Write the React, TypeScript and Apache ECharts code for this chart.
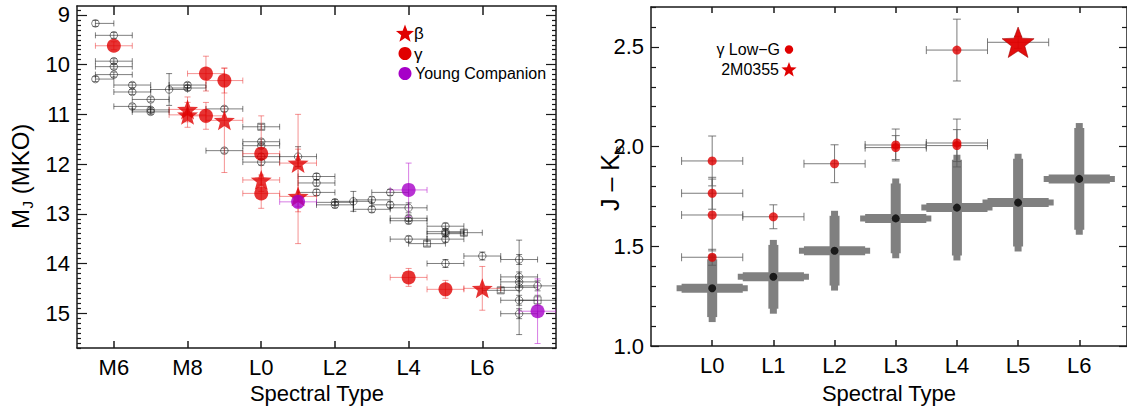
import React, { useEffect, useRef } from 'react';
import * as echarts from 'echarts';

// ---------- Left panel: absolute J magnitude vs spectral type ----------
// spectral type code: M5=5 ... M9=9, L0=10 ... L7.5=17.5
const leftTickValues = [6, 8, 10, 12, 14, 16];
const leftTickLabels = ['M6', 'M8', 'L0', 'L2', 'L4', 'L6'];
const leftYTicks = [9, 10, 11, 12, 13, 14, 15];

// [spt, M_J, xErrLow, xErrHigh, yErr]
const fieldCircles = [
  [5.5, 9.17, 0, 0.5, 0.06], [6.0, 9.41, 0.5, 0.5, 0.06], [6.0, 9.93, 0.5, 0.5, 0.05],
  [6.0, 10.04, 0.5, 0.5, 0.05], [6.0, 10.2, 0.5, 0.5, 0.05], [5.5, 10.29, 0, 0.5, 0.05],
  [6.5, 10.41, 0.5, 0.5, 0.05], [6.5, 10.55, 0.5, 0.5, 0.05], [7.0, 10.7, 0.5, 0.5, 0.05],
  [6.5, 10.84, 0.5, 0.5, 0.05], [7.0, 10.91, 0.5, 0.5, 0.05], [7.0, 10.95, 0.5, 0.5, 0.05],
  [7.5, 10.5, 0.5, 0.5, 0.32], [8.0, 10.41, 0.5, 0.5, 0.05], [8.0, 10.47, 0.5, 0.5, 0.05],
  [9.0, 10.89, 0.5, 0.5, 0.05], [9.0, 11.73, 0.5, 0.5, 0.05], [10.0, 11.55, 0.5, 0.5, 0.05],
  [10.0, 11.63, 0.5, 0.5, 0.05], [10.0, 11.85, 0.5, 0.5, 0.06], [10.0, 11.96, 0.5, 0.5, 0.06],
  [11.0, 11.85, 0.5, 0.5, 0.2], [11.5, 12.25, 0.5, 0.5, 0.06], [11.5, 12.38, 0.5, 0.5, 0.06],
  [11.5, 12.57, 0.5, 0.5, 0.06], [12.0, 12.77, 0.5, 0.5, 0.06], [12.0, 12.82, 0.5, 0.5, 0.06],
  [12.5, 12.75, 0.5, 0.5, 0.2], [13.0, 12.72, 0.5, 0.5, 0.06], [13.0, 12.91, 0.5, 0.5, 0.06],
  [13.5, 12.57, 0.5, 0.5, 0.06], [13.5, 12.82, 0.5, 0.5, 0.06], [14.0, 12.88, 0.5, 0.5, 0.1],
  [14.0, 13.09, 0.5, 0.5, 0.06], [14.0, 13.14, 0.5, 0.5, 0.06], [14.0, 13.51, 0.5, 0.5, 0.06],
  [15.0, 13.25, 0.5, 0.5, 0.06], [15.0, 13.36, 0.5, 0.5, 0.06], [15.0, 13.4, 0.5, 0.5, 0.06],
  [15.0, 13.51, 0.5, 0.5, 0.06], [15.0, 14.0, 0.5, 0.5, 0.08], [16.0, 13.85, 0.5, 0.5, 0.08],
  [17.0, 13.92, 0.5, 0.5, 0.1], [17.0, 14.27, 0.5, 0.5, 0.1], [17.0, 14.37, 0.5, 0.5, 0.1],
  [17.0, 14.48, 0.5, 0.5, 0.95], [17.0, 14.74, 0.5, 0.5, 0.1], [17.0, 15.01, 0.5, 0.5, 0.1],
  [17.5, 14.45, 0.5, 0.5, 0.1],
];
const fieldSquares = [
  [10.0, 11.25, 0.5, 0.5, 0.05], [14.5, 13.6, 0.5, 0.5, 0.05], [15.5, 13.38, 0.5, 0.5, 0.05],
  [16.5, 14.54, 0.5, 0.5, 0.05], [17.5, 14.74, 0.5, 0.5, 0.1],
];
const gammaObjects = [
  [6.0, 9.62, 0.5, 0.5, 0.08], [8.5, 10.18, 0.5, 0.5, 0.35], [9.0, 10.32, 0.5, 0.5, 0.25],
  [8.5, 11.03, 0.5, 0.5, 0.27], [10.0, 11.79, 0.5, 0.5, 0.76], [10.0, 12.59, 0.5, 0.5, 0.3],
  [14.0, 14.28, 0.5, 0.5, 0.18], [15.0, 14.52, 0.5, 0.5, 0.18],
];
const betaObjects = [
  [8.0, 10.9, 0.5, 0.5, 0.25], [8.0, 11.01, 0.5, 0.5, 0.25], [9.0, 11.12, 0.5, 0.5, 1.05],
  [10.0, 12.32, 0.5, 0.5, 0.1], [11.0, 11.98, 0.5, 0.5, 0.98], [11.0, 12.65, 0.5, 0.5, 0.95],
  [16.0, 14.5, 0.5, 0.5, 0.44],
];
const youngCompanions = [
  [11.0, 12.76, 0.5, 0.5, 0.1], [14.0, 12.52, 0.5, 0.5, 0.54], [17.5, 14.96, 0.5, 0.5, 0.65],
];

// ---------- Right panel: J-Ks colour vs spectral type ----------
const rightTickValues = [0, 1, 2, 3, 4, 5, 6];
const rightTickLabels = ['L0', 'L1', 'L2', 'L3', 'L4', 'L5', 'L6'];
const rightYTicks = [1.0, 1.5, 2.0, 2.5];
// [spt, J-Ks, xErr, yErr]
const fieldMeans = [
  [0, 1.29, 0.5, 0.145], [1, 1.347, 0.5, 0.16], [2, 1.478, 0.5, 0.175], [3, 1.64, 0.5, 0.175],
  [4, 1.694, 0.5, 0.24], [5, 1.719, 0.5, 0.22], [6, 1.838, 0.5, 0.255],
];
// [spt, J-Ks, xErrLow, xErrHigh, yErr]
const lowGravity = [
  [0, 1.928, 0.5, 0.5, 0.125], [0, 1.766, 0.5, 0.5, 0.08], [0, 1.657, 0.5, 0.5, 0.18],
  [0, 1.445, 0.5, 0.5, 0.04], [1, 1.648, 0.5, 0.5, 0.06], [2, 1.914, 0.5, 0.5, 0.095],
  [3, 2.008, 0.5, 0.5, 0.08], [3, 1.995, 0.5, 0.5, 0.06], [4, 2.018, 0.5, 0.5, 0.12],
  [4, 2.005, 0.5, 0.5, 0.08], [4, 2.484, 0.5, 0.5, 0.155],
];
const star2M0355 = [[5, 2.523, 0.5, 0.5, 0.03]];

const FONT = '"Liberation Sans", Arial, Helvetica, sans-serif';
const RED = '#e00000';
const PURPLE = '#a600c8';
const STAR =
  'path://M50,0 L62.34,33.01 L97.55,34.55 L69.97,56.49 L79.39,90.45 L50,71 L20.61,90.45 L30.03,56.49 L2.45,34.55 L37.66,33.01 Z';

function minorTicks(from: number, to: number, step: number, majorEvery: number): number[] {
  const out: number[] = [];
  const n0 = Math.ceil(from / step - 1e-9);
  const n1 = Math.floor(to / step + 1e-9);
  const ratio = Math.round(majorEvery / step);
  for (let k = n0; k <= n1; k++) if (k % ratio !== 0) out.push(Math.round(k * step * 1000) / 1000);
  return out;
}

function starPoints(cx: number, cy: number, R: number): number[][] {
  const pts: number[][] = [];
  for (let i = 0; i < 10; i++) {
    const r = i % 2 === 0 ? R : R * 0.42;
    const a = -Math.PI / 2 + (i * Math.PI) / 5;
    pts.push([cx + r * Math.cos(a), cy + r * Math.sin(a)]);
  }
  return pts;
}

function labelOf(values: number[], labels: string[]) {
  return (v: number) => {
    const i = values.findIndex((t) => Math.abs(t - v) < 1e-6);
    return i >= 0 ? labels[i] : '';
  };
}

const axisLineStyle = { color: '#1a1a1a', width: 1.5 };
const tickLabelStyle = { fontSize: 22, fontFamily: FONT, color: '#000' };

function xAx(gridIndex: number, min: number, max: number, position: string, ticks: number[], len: number, labels?: string[]) {
  return {
    type: 'value', gridIndex, min, max, position,
    axisLine: { show: true, onZero: false, lineStyle: axisLineStyle },
    axisTick: { show: true, inside: true, length: len, customValues: ticks, lineStyle: axisLineStyle },
    axisLabel: labels
      ? { show: true, customValues: ticks, formatter: labelOf(ticks, labels), margin: 8, ...tickLabelStyle }
      : { show: false },
    splitLine: { show: false },
  };
}

function yAx(gridIndex: number, min: number, max: number, position: string, inverse: boolean, ticks: number[], len: number, showLine: boolean, fmt?: (v: number) => string) {
  return {
    type: 'value', gridIndex, min, max, position, inverse,
    axisLine: { show: showLine, onZero: false, lineStyle: axisLineStyle },
    axisTick: { show: true, inside: true, length: len, customValues: ticks, lineStyle: { color: '#1a1a1a', width: 1.2 } },
    axisLabel: fmt ? { show: true, customValues: ticks, formatter: fmt, margin: 7, ...tickLabelStyle } : { show: false },
    splitLine: { show: false },
  };
}

function errRender(color: string, cap: number, width: number) {
  return (_params: any, api: any) => {
    const x = api.value(0), y = api.value(1), xl = api.value(2), xh = api.value(3), ye = api.value(4);
    const style = { stroke: color, lineWidth: width, fill: null };
    const children: any[] = [];
    const ln = (x1: number, y1: number, x2: number, y2: number) =>
      children.push({ type: 'line', shape: { x1, y1, x2, y2 }, style });
    if (xl > 0 || xh > 0) {
      const a = api.coord([x - xl, y]);
      const b = api.coord([x + xh, y]);
      ln(a[0], a[1], b[0], b[1]);
      if (xl > 0) ln(a[0], a[1] - cap, a[0], a[1] + cap);
      if (xh > 0) ln(b[0], b[1] - cap, b[0], b[1] + cap);
    }
    if (ye > 0) {
      const a = api.coord([x, y - ye]);
      const b = api.coord([x, y + ye]);
      ln(a[0], a[1], b[0], b[1]);
      ln(a[0] - cap, a[1], a[0] + cap, a[1]);
      ln(b[0] - cap, b[1], b[0] + cap, b[1]);
    }
    return { type: 'group', children };
  };
}

function crossRender(_params: any, api: any) {
  const x = api.value(0), y = api.value(1), xe = api.value(2), ye = api.value(3);
  const c = api.coord([x, y]);
  const l = api.coord([x - xe, y]);
  const r = api.coord([x + xe, y]);
  const t = api.coord([x, y + ye]);
  const b = api.coord([x, y - ye]);
  const fill = '#808080';
  const ext = 5;
  return {
    type: 'group',
    children: [
      { type: 'rect', shape: { x: l[0] - ext, y: c[1] - 3, width: r[0] - l[0] + 2 * ext, height: 6 }, style: { fill } },
      { type: 'rect', shape: { x: c[0] - 3.5, y: t[1] - ext, width: 7, height: b[1] - t[1] + 2 * ext }, style: { fill } },
      { type: 'rect', shape: { x: l[0], y: c[1] - 4.5, width: r[0] - l[0], height: 9 }, style: { fill } },
      { type: 'rect', shape: { x: c[0] - 5, y: t[1], width: 10, height: b[1] - t[1] }, style: { fill } },
    ],
  };
}

const L = { xAxisIndex: 0, yAxisIndex: 0 };
const R = { xAxisIndex: 2, yAxisIndex: 4 };

function buildOption(): any {
  const leftMinor = minorTicks(8.82, 15.7, 0.1, 1);
  const rightMinor = minorTicks(1.0, 2.7, 0.1, 0.5);
  const errBase = { type: 'custom', clip: true, silent: true, encode: { x: 0, y: 1 } };
  const txt = (x: number, y: number, text: string, size: number, align: string, extra: any = {}) => ({
    type: 'text', x, y, silent: true,
    style: { text, fontSize: size, fontFamily: FONT, fill: '#000', align, textAlign: align, verticalAlign: 'middle', textVerticalAlign: 'middle', ...extra },
  });
  return {
    animation: false,
    backgroundColor: '#fff',
    grid: [
      { left: 77, top: 6, width: 479, height: 342 },
      { left: 651, top: 7, width: 476, height: 339 },
    ],
    xAxis: [
      xAx(0, 5, 18, 'bottom', leftTickValues, 7, leftTickLabels),
      xAx(0, 5, 18, 'top', leftTickValues, 9),
      xAx(1, -1, 6.78, 'bottom', rightTickValues, 6, rightTickLabels),
      xAx(1, -1, 6.78, 'top', rightTickValues, 6),
    ],
    yAxis: [
      yAx(0, 8.82, 15.7, 'left', true, leftYTicks, 10, true, (v) => String(Math.round(v))),
      yAx(0, 8.82, 15.7, 'left', true, leftMinor, 4, false),
      yAx(0, 8.82, 15.7, 'right', true, leftYTicks, 10, true),
      yAx(0, 8.82, 15.7, 'right', true, leftMinor, 4, false),
      yAx(1, 1.0, 2.7, 'left', false, rightYTicks, 8, true, (v) => v.toFixed(1)),
      yAx(1, 1.0, 2.7, 'left', false, rightMinor, 5, false),
      yAx(1, 1.0, 2.7, 'right', false, rightYTicks, 8, true),
      yAx(1, 1.0, 2.7, 'right', false, rightMinor, 5, false),
    ],
    series: [
      // left panel
      { ...errBase, ...L, data: fieldCircles, renderItem: errRender('rgba(0,0,0,0.5)', 3, 1), z: 2 },
      { ...errBase, ...L, data: fieldSquares, renderItem: errRender('rgba(0,0,0,0.5)', 3, 1), z: 2 },
      {
        type: 'scatter', ...L, data: fieldCircles, symbol: 'circle', symbolSize: 7.5, silent: true, z: 3,
        itemStyle: { color: 'rgba(255,255,255,0)', borderColor: 'rgba(20,20,20,0.75)', borderWidth: 0.9 },
      },
      {
        type: 'scatter', ...L, data: fieldSquares, symbol: 'rect', symbolSize: 7, silent: true, z: 3,
        itemStyle: { color: 'rgba(255,255,255,0)', borderColor: 'rgba(20,20,20,0.75)', borderWidth: 0.9 },
      },
      { ...errBase, ...L, data: gammaObjects, renderItem: errRender('rgba(235,40,40,0.5)', 3, 1), z: 4 },
      { ...errBase, ...L, data: betaObjects, renderItem: errRender('rgba(235,40,40,0.5)', 3, 1), z: 4 },
      { ...errBase, ...L, data: youngCompanions, renderItem: errRender('rgba(190,40,210,0.6)', 3, 1), z: 4 },
      { type: 'scatter', ...L, data: gammaObjects, symbol: 'circle', symbolSize: 14, silent: true, z: 5, itemStyle: { color: RED } },
      { type: 'scatter', ...L, data: betaObjects, symbol: STAR, symbolKeepAspect: true, symbolSize: 21, silent: true, z: 5, itemStyle: { color: RED } },
      { type: 'scatter', ...L, data: youngCompanions, symbol: 'circle', symbolSize: 14, silent: true, z: 5, itemStyle: { color: PURPLE } },
      // right panel
      { type: 'custom', ...R, data: fieldMeans, renderItem: crossRender, clip: true, silent: true, encode: { x: 0, y: 1 }, z: 2 },
      { type: 'scatter', ...R, data: fieldMeans, symbol: 'circle', symbolSize: 8, silent: true, z: 3, itemStyle: { color: '#000' } },
      { ...errBase, ...R, data: lowGravity, renderItem: errRender('rgba(90,90,90,0.8)', 4, 1), z: 4 },
      { ...errBase, ...R, data: star2M0355, renderItem: errRender('rgba(90,90,90,0.8)', 4, 1), z: 4 },
      { type: 'scatter', ...R, data: lowGravity, symbol: 'circle', symbolSize: 9, silent: true, z: 5, itemStyle: { color: RED } },
      {
        type: 'scatter', ...R, data: star2M0355, symbol: STAR, symbolKeepAspect: true, symbolSize: 32, silent: true, z: 5,
        itemStyle: { color: RED, borderColor: '#a00000', borderWidth: 0.6, opacity: 0.95 },
      },
    ],
    graphic: [
      // axis names
      txt(317, 393, 'Spectral Type', 22, 'center'),
      txt(889, 393, 'Spectral Type', 22, 'center'),
      {
        type: 'group', x: 20, y: 175, rotation: Math.PI / 2, silent: true,
        children: [
          txt(-54, 0, 'M', 24, 'left'),
          txt(-33.5, 7, 'J', 15, 'left'),
          txt(-26, 0, ' (MKO)', 24, 'left'),
        ],
      },
      {
        type: 'group', x: 610, y: 177, rotation: Math.PI / 2, silent: true,
        children: [
          txt(-34, 0, 'J – K', 25, 'left'),
          txt(24, 8, 's', 15, 'left'),
        ],
      },
      // left legend
      { type: 'polygon', shape: { points: starPoints(405, 34, 9.5) }, style: { fill: RED }, silent: true },
      txt(414, 33, 'β', 17, 'left'),
      { type: 'circle', shape: { cx: 405, cy: 53.5, r: 6.5 }, style: { fill: RED }, silent: true },
      txt(414, 54, 'γ', 17, 'left'),
      { type: 'circle', shape: { cx: 405, cy: 73.5, r: 6.5 }, style: { fill: PURPLE }, silent: true },
      txt(415, 73, 'Young Companion', 16, 'left'),
      // right legend
      txt(780, 49, 'γ Low−G', 16, 'right'),
      { type: 'circle', shape: { cx: 789, cy: 49.5, r: 4.2 }, style: { fill: RED }, silent: true },
      txt(779, 69, '2M0355', 16, 'right'),
      { type: 'polygon', shape: { points: starPoints(789, 70, 8) }, style: { fill: RED }, silent: true },
    ],
  };
}

export default function App() {
  const ref = useRef<HTMLDivElement | null>(null);
  useEffect(() => {
    if (!ref.current) return;
    const chart = echarts.init(ref.current, undefined, { renderer: 'svg' });
    chart.setOption(buildOption());
    return () => chart.dispose();
  }, []);
  return (
    <div
      ref={ref}
      style={{ position: 'absolute', left: 0, top: 0, width: 1127, height: 408, background: '#fff' }}
    />
  );
}
